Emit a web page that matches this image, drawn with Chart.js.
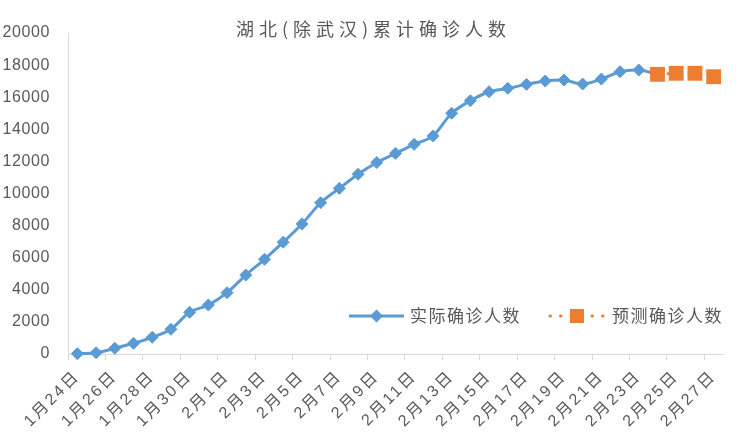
<!DOCTYPE html>
<html>
<head>
<meta charset="utf-8">
<script src="https://cdn.jsdelivr.net/npm/chart.js@4/dist/chart.umd.min.js"></script>
<style>
  html, body { margin: 0; padding: 0; background: #fff; }
</style>
</head>
<body>
<canvas id="c" width="745" height="433"></canvas>
<script>
const titleText = "湖北(除武汉)累计确诊人数";
const actualName = "实际确诊人数";
const predName = "预测确诊人数";

const dates = [
  "1月24日", "1月25日", "1月26日", "1月27日", "1月28日", "1月29日", "1月30日", "1月31日",
  "2月1日", "2月2日", "2月3日", "2月4日", "2月5日", "2月6日", "2月7日", "2月8日", "2月9日",
  "2月10日", "2月11日", "2月12日", "2月13日", "2月14日", "2月15日", "2月16日", "2月17日",
  "2月18日", "2月19日", "2月20日", "2月21日", "2月22日", "2月23日", "2月24日", "2月25日",
  "2月26日", "2月27日"
];

// 实际 (the last point sits under the first predicted square)
const actual = [
  20, 80, 355, 667, 1040, 1540, 2600, 3050, 3820, 4920, 5900, 6965, 8100, 9425, 10320,
  11200, 11930, 12500, 13065, 13580, 15000, 15780, 16340, 16550, 16800, 17010, 17070,
  16820, 17130, 17590, 17690, 17425
];

// 预测
const predicted = [
  null, null, null, null, null, null, null, null, null, null, null, null, null, null, null,
  null, null, null, null, null, null, null, null, null, null, null, null, null, null, null,
  null, 17425, 17490, 17490, 17275
];

const yMin = 0;
const yMax = 20000;
const yStep = 2000;

const BLUE = "#5B9BD5";
const ORANGE = "#ED7D31";
const TEXT = "#595959";
const AXIS = "#D9D9D9";
const FONT = '"Liberation Sans", "Noto Sans CJK SC", sans-serif';
const CJK = '"Noto Sans CJK SC", sans-serif';

// wrap a scale's label drawing so its text gets letter spacing
function spaceLabels(scale, px) {
  if (!scale || scale._spaced) return;
  scale._spaced = true;
  const orig = scale.drawLabels.bind(scale);
  scale.drawLabels = function (area) {
    scale.ctx.save();
    scale.ctx.letterSpacing = px + "px";
    orig(area);
    scale.ctx.restore();
  };
}

const spacingPlugin = {
  id: "spacing",
  beforeDraw(chart) {
    spaceLabels(chart.scales.x, 2.5);
    spaceLabels(chart.scales.y, 0.6);
  }
};

const titlePlugin = {
  id: "spacedTitle",
  afterDraw(chart) {
    const ctx = chart.ctx;
    ctx.save();
    ctx.font = "18px " + CJK;
    ctx.fillStyle = TEXT;
    ctx.letterSpacing = "5px";
    ctx.textAlign = "center";
    ctx.textBaseline = "middle";
    ctx.fillText(titleText, chart.width / 2 + 1, 29);
    ctx.restore();
  }
};

// legend inside the plot, lower right
const legendPlugin = {
  id: "innerLegend",
  afterDraw(chart) {
    const ctx = chart.ctx;
    const a = chart.chartArea;
    const y = a.bottom - 38;
    ctx.save();

    // 实际
    let x0 = a.left + 281;
    ctx.strokeStyle = BLUE;
    ctx.lineWidth = 3;
    ctx.beginPath();
    ctx.moveTo(x0, y);
    ctx.lineTo(x0 + 55, y);
    ctx.stroke();
    const cx = x0 + 27.5;
    ctx.fillStyle = BLUE;
    ctx.beginPath();
    ctx.moveTo(cx - 6.5, y);
    ctx.lineTo(cx, y - 6.5);
    ctx.lineTo(cx + 6.5, y);
    ctx.lineTo(cx, y + 6.5);
    ctx.closePath();
    ctx.fill();

    // 预测
    let x1 = a.left + 482;
    ctx.strokeStyle = ORANGE;
    ctx.lineCap = "round";
    ctx.setLineDash([0.5, 10]);
    ctx.beginPath();
    ctx.moveTo(x1, y);
    ctx.lineTo(x1 + 53, y);
    ctx.stroke();
    ctx.setLineDash([]);
    ctx.fillStyle = ORANGE;
    ctx.fillRect(x1 + 27 - 7, y - 7, 14, 14);

    ctx.font = "17px " + CJK;
    ctx.letterSpacing = "1.5px";
    ctx.fillStyle = TEXT;
    ctx.textBaseline = "middle";
    ctx.textAlign = "left";
    ctx.fillText(actualName, x0 + 61, y);
    ctx.fillText(predName, x1 + 62, y);
    ctx.restore();
  }
};

new Chart(document.getElementById("c"), {
  type: "line",
  data: {
    labels: dates,
    datasets: [
      {
        label: actualName,
        data: actual,
        borderColor: BLUE,
        backgroundColor: BLUE,
        borderWidth: 3,
        tension: 0.3,
        pointStyle: "rectRot",
        pointRadius: 6,
        pointBorderWidth: 1,
        pointBackgroundColor: BLUE,
        pointBorderColor: BLUE,
        clip: false,
        order: 1
      },
      {
        label: predName,
        data: predicted,
        borderColor: ORANGE,
        backgroundColor: ORANGE,
        borderWidth: 3,
        borderDash: [0.5, 10],
        borderCapStyle: "round",
        tension: 0,
        pointStyle: "rect",
        pointRadius: 10.5,
        pointBorderWidth: 0,
        pointBackgroundColor: ORANGE,
        clip: false,
        order: 0
      }
    ]
  },
  options: {
    responsive: false,
    animation: false,
    layout: { padding: { top: 33, right: 22, left: 0, bottom: 0 } },
    plugins: {
      legend: { display: false },
      title: { display: false },
      tooltip: { enabled: false }
    },
    scales: {
      x: {
        offset: true,
        grid: {
          display: true,
          offset: true,
          drawOnChartArea: false,
          drawTicks: true,
          tickLength: 6,
          tickWidth: 1,
          tickColor: (c) => (c.index % 2 === 0 ? AXIS : "rgba(0,0,0,0)")
        },
        border: { display: true, color: AXIS, width: 1 },
        ticks: {
          autoSkip: false,
          minRotation: 45,
          maxRotation: 45,
          padding: 7,
          color: TEXT,
          font: { family: FONT, size: 16 },
          callback: (v, i) => (i % 2 === 0 ? dates[i] : "")
        },
        afterFit: (s) => { s.height = 79; }
      },
      y: {
        min: yMin,
        max: yMax,
        grid: { display: false, drawTicks: false },
        border: { display: true, color: AXIS, width: 1 },
        ticks: {
          stepSize: yStep,
          padding: 18,
          color: TEXT,
          font: { family: FONT, size: 16 },
          callback: (v) => String(v)
        },
        afterFit: (s) => { s.width = 68; }
      }
    }
  },
  plugins: [spacingPlugin, titlePlugin, legendPlugin]
});
</script>
</body>
</html>
